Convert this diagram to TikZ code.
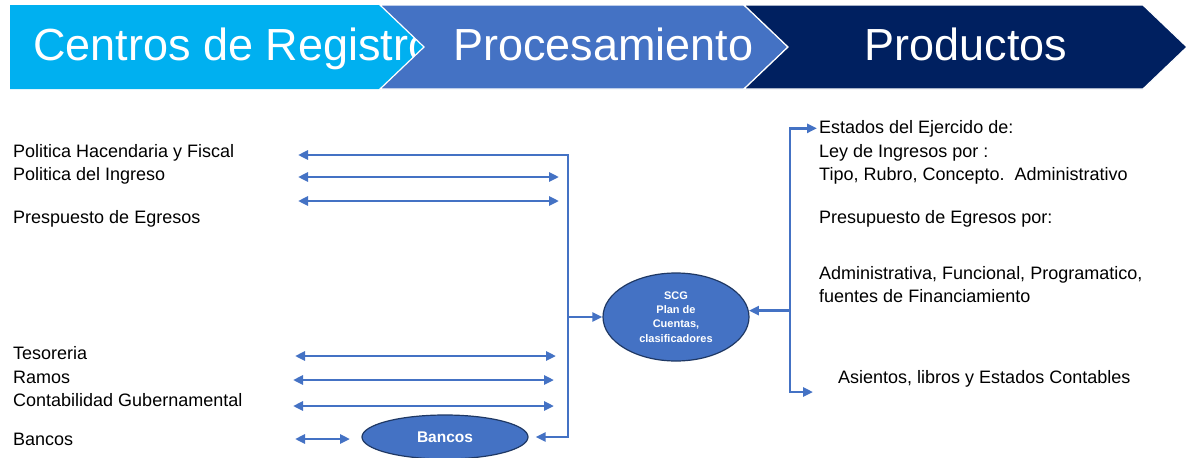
\documentclass[tikz,border=0pt]{standalone}
\usepackage{fontspec}
\setmainfont{Liberation Sans}
\usetikzlibrary{arrows.meta,shapes.geometric}
\definecolor{cielo}{HTML}{00B0F0}
\definecolor{azul}{HTML}{4472C4}
\definecolor{marino}{HTML}{002060}
\definecolor{borde}{HTML}{1F3864}
\begin{document}
\begin{tikzpicture}[x=1pt,y=-1pt,>={Triangle[length=10pt,width=9pt]},
    flujo/.style={draw=azul,line width=2.8pt},
    etq/.style={anchor=base west,inner sep=0pt,font=\fontsize{18}{21}\selectfont},
    titulo/.style={text=white,inner sep=0pt,font=\fontsize{45}{54}\selectfont},
    elip/.style={ellipse,fill=azul,draw=borde,line width=1.2pt,text=white,inner sep=0pt,align=center}]
        \useasboundingbox(0,0)rectangle(1187,458);
        \fill[cielo](10,5)--(380,5)--(424,47)--(380,89)--(10,89)--cycle;
        \node[titulo,anchor=base west](reg)at(33,60){Centros de Registro};
        \filldraw[fill=azul,draw=white,line width=1.2pt](380,5)--(744,5)--(788,47)--(744,89)--(380,89)--(424,47)--cycle;
        \node[titulo,anchor=base west](proc)at(453,60){Procesamiento};
        \filldraw[fill=marino,draw=white,line width=1.2pt](744,5)--(1143,5)--(1187,47)--(1143,89)--(744,89)--(788,47)--cycle;
        \node[titulo,anchor=base](prod)at(966,60){Productos};
        \node[etq](hac)at(13,157){Politica Hacendaria y Fiscal};
        \node[etq](ing)at(13,180){Politica del Ingreso};
        \node[etq](egr)at(13,223){Prespuesto de Egresos};
        \node[etq](tes)at(13,359){Tesoreria};
        \node[etq](ram)at(13,383){Ramos};
        \node[etq](cont)at(13,406){Contabilidad Gubernamental};
        \node[etq](bnc)at(13,445){Bancos};
        \node[etq](est)at(819,133){Estados del Ejercido de:};
        \node[etq](ley)at(819,157){Ley de Ingresos por :};
        \node[etq](tipo)at(819,180){Tipo, Rubro, Concepto.\ \ Administrativo};
        \node[etq](pre)at(819,223){Presupuesto de Egresos por:};
        \node[etq](adm)at(819,279){Administrativa, Funcional, Programatico,};
        \node[etq](fue)at(819,302){fuentes de Financiamiento};
        \node[etq](asi)at(838,383){Asientos, libros y Estados Contables};
        \node[elip,minimum width=146pt,minimum height=88pt,font=\bfseries\fontsize{11}{14.3}\selectfont](scg)at(676,317){SCG\\Plan de\\Cuentas,\\clasificadores};
        \node[elip,minimum width=166pt,minimum height=44pt,font=\bfseries\fontsize{15.5}{18}\selectfont](bk)at(445,437){Bancos};
        \coordinate(bs)at(568,155);
        \coordinate(h1)at(298,155);
        \coordinate(i1)at(298,177);\coordinate(i2)at(559,177);
        \coordinate(e1)at(298,201);\coordinate(e2)at(559,201);
        \coordinate(t1)at(295,356);\coordinate(t2)at(556,356);
        \coordinate(r1)at(293,380);\coordinate(r2)at(554,380);
        \coordinate(c1)at(293,406);\coordinate(c2)at(554,406);
        \coordinate(k1)at(295,439);\coordinate(k2)at(350,439);
        \coordinate(rb)at(790,392);
        \coordinate(ra)at(813,392);
        \draw[flujo,<->,shorten >=7pt](h1)--(bs)|-(bk.east);
        \draw[flujo,<->](i1)--(i2);
        \draw[flujo,<->](e1)--(e2);
        \draw[flujo,<->](t1)--(t2);
        \draw[flujo,<->](r1)--(r2);
        \draw[flujo,<->](c1)--(c2);
        \draw[flujo,<->](k1)--(k2);
        \draw[flujo,->](scg.west-|bs)--(scg.west);
        \draw[flujo,<->,shorten <=2pt](est.west)-|(rb)--(ra);
        \draw[flujo,->](scg.5-|rb)--(scg.5);
    \end{tikzpicture}
\end{document}
